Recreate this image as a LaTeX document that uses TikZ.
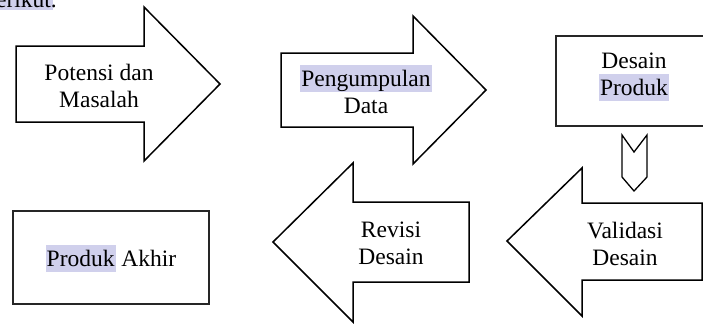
\documentclass[tikz,border=0pt]{standalone}
\usepackage{fontspec}
\setmainfont{Liberation Serif}
\definecolor{hlc}{HTML}{D0D0EC}
\newcommand\hlword[1]{{\setlength{\fboxsep}{0pt}\colorbox{hlc}{\kern1pt\rule[-6pt]{0pt}{27pt}#1\kern1pt}}}
\begin{document}
\begin{tikzpicture}[x=1pt,y=-1pt,
  shape outline/.style={draw=black,line width=1.5pt,line join=miter,fill=white},
  box outline/.style={draw=black!85,line width=2pt,fill=white},
  lbl/.style={font=\fontsize{23.5}{27}\selectfont,align=center,inner sep=0pt,anchor=base}]
\useasboundingbox (0,0) rectangle (703,324);
\clip (0,0) rectangle (703,324);
% partial text at top left
\fill[hlc] (-20,-10) rectangle (53,9.5);
\node[lbl,anchor=base east] (prev) at (57,7) {berikut.};
% Potensi dan Masalah arrow
\draw[shape outline] (16,46) -- (144,46) -- (144,7) -- (220,84) -- (144,161) -- (144,122) -- (16,122) -- cycle;
\node[lbl] (potensi) at (99,107) {Potensi dan\\Masalah};
% Pengumpulan Data arrow
\draw[shape outline] (281,53) -- (413,53) -- (413,16) -- (486,90) -- (413,164) -- (413,127) -- (281,127) -- cycle;
\node[lbl] (data) at (366,113) {\hlword{Pengumpulan}\\Data};
% Desain Produk box
\draw[box outline] (556,36) rectangle (712,126);
\node[lbl] (desain) at (634,95) {Desain\\\hlword{Produk}};
% small down chevron
\draw[draw=black,line width=1.3pt,fill=white] (622,135) -- (634,152) -- (647,135) -- (647,177) -- (634,191) -- (622,177) -- cycle;
% Validasi Desain arrow
\draw[shape outline] (702,203) -- (582,203) -- (582,168) -- (507,241) -- (582,316) -- (582,280) -- (702,280) -- cycle;
\node[lbl] (validasi) at (625,265) {Validasi\\Desain};
% Revisi Desain arrow
\draw[shape outline] (469,202) -- (353,202) -- (353,163) -- (273,242) -- (353,322) -- (353,282) -- (469,282) -- cycle;
\node[lbl] (revisi) at (391,264) {Revisi\\Desain};
% Produk Akhir box
\draw[box outline] (13,211) rectangle (209,304);
\node[lbl] (akhir) at (111,266) {\hlword{Produk} Akhir};
\end{tikzpicture}
\end{document}
